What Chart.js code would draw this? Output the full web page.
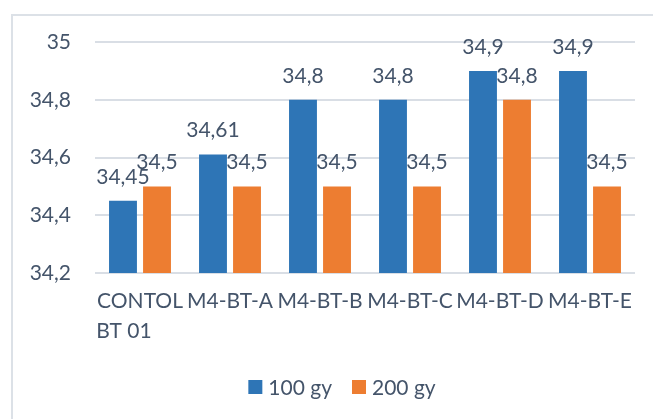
<!DOCTYPE html>
<html>
<head>
<meta charset="utf-8">
<script src="https://cdn.jsdelivr.net/npm/chart.js@4/dist/chart.umd.min.js"></script>
<style>
  html, body { margin: 0; padding: 0; background: #ffffff; }
  #wrap { position: relative; width: 653px; height: 419px; }
</style>
</head>
<body>
<div id="wrap"><canvas id="chart" width="653" height="419"></canvas></div>
<script>
// Samples and the two irradiation doses
const categories = [["CONTOL", "BT 01      "], "M4-BT-A", "M4-BT-B", "M4-BT-C", "M4-BT-D", "M4-BT-E"];
const dose100 = [34.45, 34.61, 34.8, 34.8, 34.9, 34.9];
const dose200 = [34.5, 34.5, 34.5, 34.5, 34.8, 34.5];
const seriesNames = ["100 gy", "200 gy"];
const seriesColors = ["#2E75B6", "#ED7D31"];
const yTicks = [34.2, 34.4, 34.6, 34.8, 35];

const TEXT = "#44546A";
const FONT = "Lato";
const GRID = "#D9DEE5";

const comma = v => String(Math.round(v * 100) / 100).replace(".", ",");

// Outer frame around the chart
const framePlugin = {
  id: "frame",
  beforeDraw(chart) {
    const ctx = chart.ctx;
    ctx.save();
    ctx.strokeStyle = "#DCE1E7";
    ctx.lineWidth = 2;
    ctx.strokeRect(12, 15, 700, 500);
    ctx.restore();
  }
};

// Value labels above each bar
const valueLabels = {
  id: "valueLabels",
  afterDatasetsDraw(chart) {
    const ctx = chart.ctx;
    ctx.save();
    ctx.font = "21px " + FONT;
    ctx.fillStyle = TEXT;
    ctx.textAlign = "center";
    ctx.textBaseline = "middle";
    chart.data.datasets.forEach((ds, i) => {
      chart.getDatasetMeta(i).data.forEach((bar, j) => {
        ctx.fillText(comma(ds.data[j]), bar.x, bar.y - 24);
      });
    });
    ctx.restore();
  }
};

// Legend row under the axis, centred on the outer frame
const legendRow = {
  id: "legendRow",
  afterDraw(chart) {
    const ctx = chart.ctx;
    const y = 387, box = 14, gapText = 6, gapItem = 20;
    ctx.save();
    ctx.font = "21px " + FONT;
    ctx.textBaseline = "middle";
    ctx.textAlign = "left";
    const widths = chart.data.datasets.map(ds => box + gapText + ctx.measureText(ds.label).width);
    const total = widths.reduce((a, b) => a + b, 0) + gapItem * (widths.length - 1);
    let x = 342 - total / 2;
    chart.data.datasets.forEach((ds, i) => {
      ctx.fillStyle = ds.backgroundColor;
      ctx.fillRect(x, y - box / 2, box, box);
      ctx.fillStyle = TEXT;
      ctx.fillText(ds.label, x + box + gapText, y + 1);
      x += widths[i] + gapItem;
    });
    ctx.restore();
  }
};

new Chart(document.getElementById("chart"), {
  type: "bar",
  data: {
    labels: categories,
    datasets: [
      { label: seriesNames[0], data: dose100, backgroundColor: seriesColors[0] },
      { label: seriesNames[1], data: dose200, backgroundColor: seriesColors[1] }
    ]
  },
  options: {
    responsive: false,
    animation: false,
    events: [],
    categoryPercentage: 0.756,
    barPercentage: 0.82,
    layout: { padding: { top: 42, right: 18, left: 0, bottom: 53 } },
    scales: {
      y: {
        min: 34.2,
        max: 35,
        afterBuildTicks(scale) { scale.ticks = yTicks.map(v => ({ value: v })); },
        afterFit(scale) { scale.width = 95; },
        border: { display: false },
        grid: { color: GRID, lineWidth: 2, drawTicks: false },
        ticks: {
          padding: 24,
          color: TEXT,
          font: { family: FONT, size: 21 },
          callback: v => comma(v)
        }
      },
      x: {
        afterFit(scale) { scale.height = 93; },
        border: { display: false },
        grid: { display: false, drawTicks: false },
        ticks: {
          padding: 14,
          maxRotation: 0,
          autoSkip: false,
          color: TEXT,
          font: { family: FONT, size: 21, lineHeight: 1.4 }
        }
      }
    },
    plugins: {
      legend: { display: false },
      tooltip: { enabled: false }
    }
  },
  plugins: [framePlugin, valueLabels, legendRow]
});
</script>
</body>
</html>
